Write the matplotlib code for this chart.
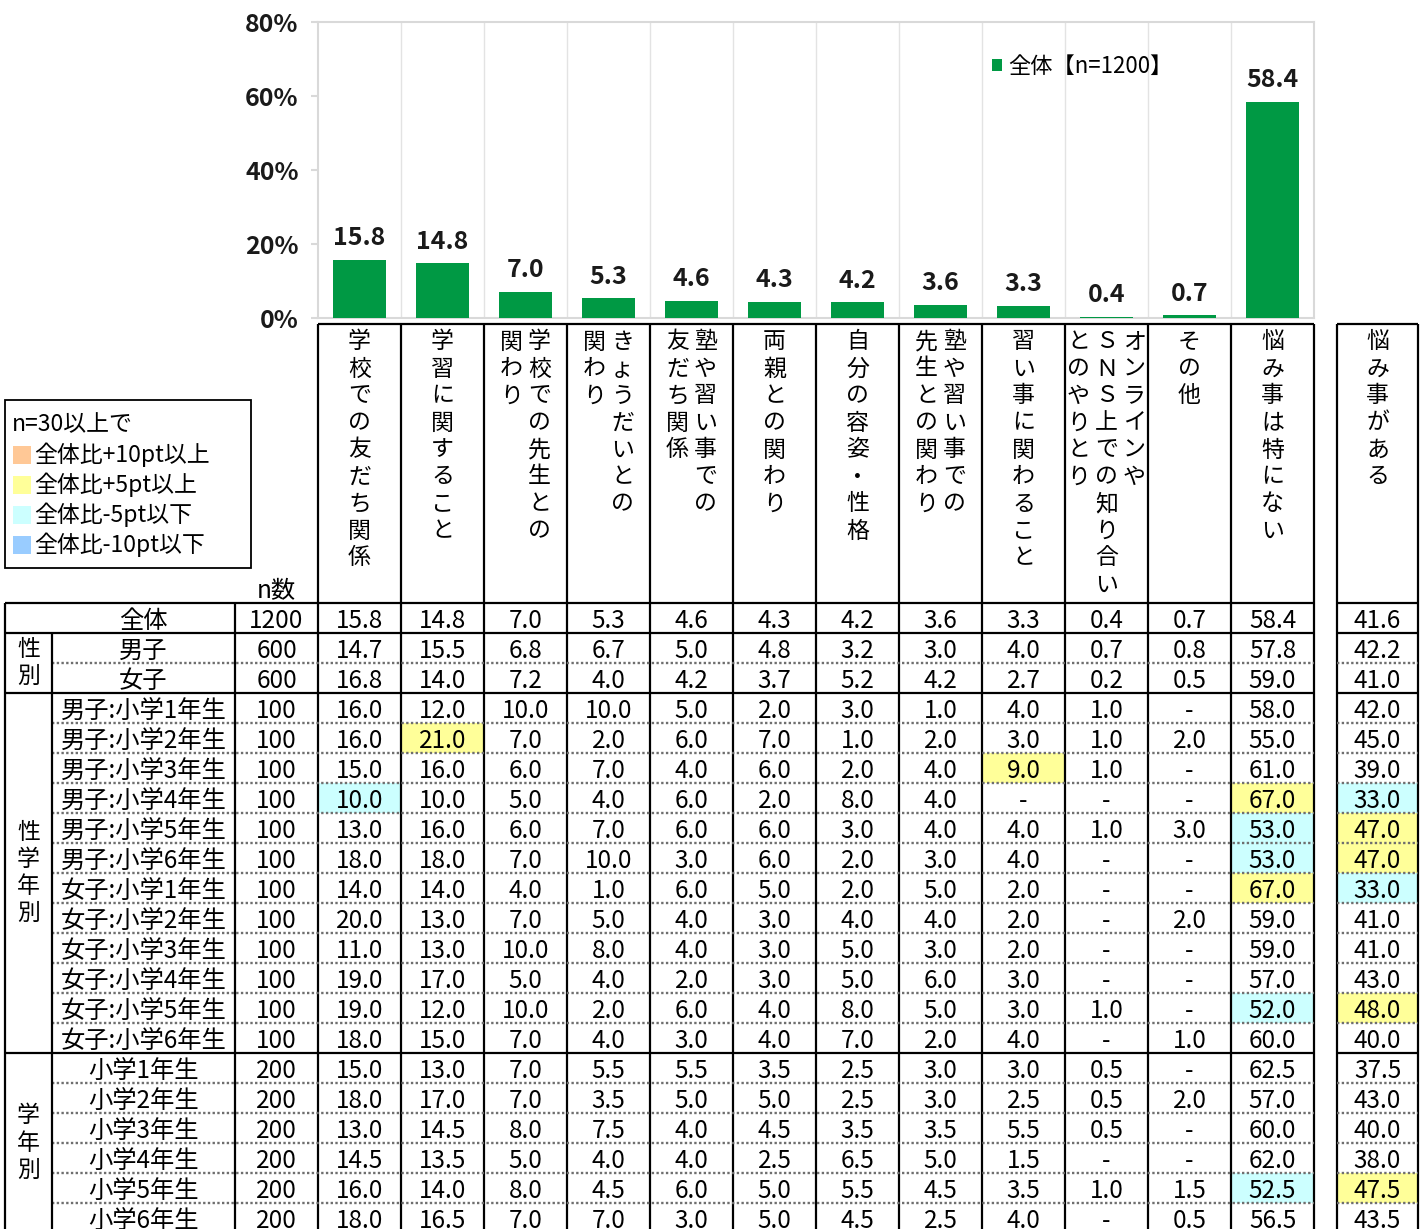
import numpy as np
import matplotlib
matplotlib.use("Agg")  # headless
import matplotlib.pyplot as plt
from matplotlib.patches import Rectangle

plt.rcParams['font.family'] = ['Noto Sans CJK JP', 'DejaVu Sans']

# ---- data ----
categories = [
    "学校での友だち関係", "学習に関すること", "学校での先生との関わり", "きょうだいとの関わり",
    "塾や習い事での友だち関係", "両親との関わり", "自分の容姿・性格", "塾や習い事での先生との関わり",
    "習い事に関わること", "オンラインやSNS上での知り合いとのやりとり", "その他", "悩み事は特にない",
]
# vertical header text, split into columns (right-most first)
header_cols = [
    ["学校での友だち関係"],
    ["学習に関すること"],
    ["学校での先生との", "関わり"],
    ["きょうだいとの", "関わり"],
    ["塾や習い事での", "友だち関係"],
    ["両親との関わり"],
    ["自分の容姿・性格"],
    ["塾や習い事での", "先生との関わり"],
    ["習い事に関わること"],
    ["オンラインや", "ＳＮＳ上での知り合い", "とのやりとり"],
    ["その他"],
    ["悩み事は特にない"],
]
extra_header = "悩み事がある"

total_label = "全体"
total_n = 1200
total_vals = [15.8, 14.8, 7.0, 5.3, 4.6, 4.3, 4.2, 3.6, 3.3, 0.4, 0.7, 58.4]
total_extra = 41.6

gender_labels = ["男子", "女子"]
gender_n = [600, 600]
gender_vals = [
    [14.7, 15.5, 6.8, 6.7, 5.0, 4.8, 3.2, 3.0, 4.0, 0.7, 0.8, 57.8],
    [16.8, 14.0, 7.2, 4.0, 4.2, 3.7, 5.2, 4.2, 2.7, 0.2, 0.5, 59.0],
]
gender_extra = [42.2, 41.0]

sexgrade_labels = [
    "男子:小学1年生", "男子:小学2年生", "男子:小学3年生", "男子:小学4年生", "男子:小学5年生", "男子:小学6年生",
    "女子:小学1年生", "女子:小学2年生", "女子:小学3年生", "女子:小学4年生", "女子:小学5年生", "女子:小学6年生",
]
sexgrade_n = [100] * 12
sexgrade_vals = [
    [16.0, 12.0, 10.0, 10.0, 5.0, 2.0, 3.0, 1.0, 4.0, 1.0, None, 58.0],
    [16.0, 21.0, 7.0, 2.0, 6.0, 7.0, 1.0, 2.0, 3.0, 1.0, 2.0, 55.0],
    [15.0, 16.0, 6.0, 7.0, 4.0, 6.0, 2.0, 4.0, 9.0, 1.0, None, 61.0],
    [10.0, 10.0, 5.0, 4.0, 6.0, 2.0, 8.0, 4.0, None, None, None, 67.0],
    [13.0, 16.0, 6.0, 7.0, 6.0, 6.0, 3.0, 4.0, 4.0, 1.0, 3.0, 53.0],
    [18.0, 18.0, 7.0, 10.0, 3.0, 6.0, 2.0, 3.0, 4.0, None, None, 53.0],
    [14.0, 14.0, 4.0, 1.0, 6.0, 5.0, 2.0, 5.0, 2.0, None, None, 67.0],
    [20.0, 13.0, 7.0, 5.0, 4.0, 3.0, 4.0, 4.0, 2.0, None, 2.0, 59.0],
    [11.0, 13.0, 10.0, 8.0, 4.0, 3.0, 5.0, 3.0, 2.0, None, None, 59.0],
    [19.0, 17.0, 5.0, 4.0, 2.0, 3.0, 5.0, 6.0, 3.0, None, None, 57.0],
    [19.0, 12.0, 10.0, 2.0, 6.0, 4.0, 8.0, 5.0, 3.0, 1.0, None, 52.0],
    [18.0, 15.0, 7.0, 4.0, 3.0, 4.0, 7.0, 2.0, 4.0, None, 1.0, 60.0],
]
sexgrade_extra = [42.0, 45.0, 39.0, 33.0, 47.0, 47.0, 33.0, 41.0, 41.0, 43.0, 48.0, 40.0]

grade_labels = ["小学1年生", "小学2年生", "小学3年生", "小学4年生", "小学5年生", "小学6年生"]
grade_n = [200] * 6
grade_vals = [
    [15.0, 13.0, 7.0, 5.5, 5.5, 3.5, 2.5, 3.0, 3.0, 0.5, None, 62.5],
    [18.0, 17.0, 7.0, 3.5, 5.0, 5.0, 2.5, 3.0, 2.5, 0.5, 2.0, 57.0],
    [13.0, 14.5, 8.0, 7.5, 4.0, 4.5, 3.5, 3.5, 5.5, 0.5, None, 60.0],
    [14.5, 13.5, 5.0, 4.0, 4.0, 2.5, 6.5, 5.0, 1.5, None, None, 62.0],
    [16.0, 14.0, 8.0, 4.5, 6.0, 5.0, 5.5, 4.5, 3.5, 1.0, 1.5, 52.5],
    [18.0, 16.5, 7.0, 7.0, 3.0, 5.0, 4.5, 2.5, 4.0, None, 0.5, 56.5],
]
grade_extra = [37.5, 43.0, 40.0, 38.0, 47.5, 43.5]

groups = [
    ("性別", gender_labels, gender_n, gender_vals, gender_extra),
    ("性学年別", sexgrade_labels, sexgrade_n, sexgrade_vals, sexgrade_extra),
    ("学年別", grade_labels, grade_n, grade_vals, grade_extra),
]

legend_items = [
    ("全体比+10pt以上", "#FFC896"),
    ("全体比+5pt以上", "#FFFF99"),
    ("全体比-5pt以下", "#CCFFFF"),
    ("全体比-10pt以下", "#99CCFF"),
]
BAR_COLOR = "#009944"

# ---- layout (pixels) ----
W, H = 1426, 1229
X0, X_GRP, X_N, X_D0, X_D1 = 5, 52, 235, 318, 1314
COL_W = (X_D1 - X_D0) / len(categories)
X_E0, X_E1 = 1337, 1418
HEAD_Y0, BODY_Y0, ROW_H = 324, 603, 30
FS = 17.5

fig = plt.figure(figsize=(W / 100, H / 100), dpi=100)

# ---- bar chart ----
ax = fig.add_axes([X_D0 / W, 1 - 318 / H, (X_D1 - X_D0) / W, (318 - 22) / H])
ax.set_facecolor("none")
x = np.arange(len(categories))
bars = ax.bar(x, total_vals, width=0.65, color=BAR_COLOR, zorder=3,
              label=f"{total_label}【n={total_n}】")
ax.set_xlim(-0.5, len(categories) - 0.5)
ax.set_ylim(0, 80)
for v in np.arange(0.5, len(categories) - 0.5, 1):
    ax.axvline(v, color="#E3E3E3", lw=1, zorder=1)
for side in ("top", "right", "left", "bottom"):
    ax.spines[side].set_color("#D9D9D9")
    ax.spines[side].set_linewidth(1.5)
ax.set_xticks([])
ax.set_yticks([0, 20, 40, 60, 80], labels=["0%", "20%", "40%", "60%", "80%"])
ax.tick_params(axis="y", length=5, color="#D9D9D9", width=1.5, labelsize=18, pad=9,
               labelcolor="#1a1a1a")
for t in ax.get_yticklabels():
    t.set_fontweight("bold")
ax.bar_label(bars, labels=[f"{v:.1f}" for v in total_vals], padding=7,
             fontsize=18, fontweight="bold", color="#1a1a1a")
ax.legend(loc="center left", bbox_to_anchor=(0.657, 0.851), frameon=False,
          fontsize=16, handlelength=0.45, handleheight=0.45, handletextpad=0.25)

# ---- table (pixel coordinates) ----
tx = fig.add_axes([0, 0, 1, 1], zorder=-1)
tx.set_xlim(0, W)
tx.set_ylim(H, 0)
tx.axis("off")

LW = 1.6


def hline(y, x0, x1, dotted=False):
    if dotted:
        tx.plot([x0, x1], [y, y], color="#6e6e6e", lw=1.7, ls=(0, (1, 1)))
    else:
        tx.plot([x0, x1], [y, y], color="black", lw=LW, solid_capstyle="butt")


def vline(xp, y0, y1):
    tx.plot([xp, xp], [y0, y1], color="black", lw=LW, solid_capstyle="butt")


def vtext(cx, y_top, s, step=27, **kw):
    for j, ch in enumerate(s):
        tx.text(cx, y_top + j * step, ch, ha="center", va="center", fontsize=16.5, **kw)


# header
hline(HEAD_Y0, X_D0, X_D1)
hline(HEAD_Y0, X_E0, X_E1)
for i in range(len(categories) + 1):
    vline(X_D0 + i * COL_W, HEAD_Y0, H + 5)
vline(X_E0, HEAD_Y0, H + 5)
vline(X_E1, HEAD_Y0, H + 5)
for i, segs in enumerate(header_cols):
    cx = X_D0 + (i + 0.5) * COL_W
    m = len(segs)
    for k, seg in enumerate(segs):
        vtext(cx + (m - 1) / 2 * 28 - k * 28, 342, seg)
vtext((X_E0 + X_E1) / 2, 342, extra_header)
tx.text((X_N + X_D0) / 2, 591, "n数", ha="center", va="center", fontsize=FS)

# colour legend box
tx.add_patch(Rectangle((X0, 400), 246, 168, fill=False, ec="black", lw=1.3))
tx.text(12, 425, "n=30以上で", ha="left", va="center", fontsize=16.5)
for k, (lab, col) in enumerate(legend_items):
    yy = 455 + k * 30
    tx.add_patch(Rectangle((13, yy - 9), 18, 18, color=col, lw=0))
    tx.text(34, yy, lab, ha="left", va="center", fontsize=16.5)


def cell_color(v, base):
    if v is None:
        return None
    d = round(v - base, 1)
    if d >= 10:
        return legend_items[0][1]
    if d >= 5:
        return legend_items[1][1]
    if d <= -10:
        return legend_items[3][1]
    if d <= -5:
        return legend_items[2][1]
    return None


def draw_row(y, label, n, vals, extra, compare=True):
    cy = y + ROW_H / 2 + 2.5
    tx.text((X_GRP + X_N) / 2, cy, label, ha="center", va="center", fontsize=FS)
    tx.text((X_N + X_D0) / 2, cy, f"{n}", ha="center", va="center", fontsize=FS)
    cells = [(X_D0 + i * COL_W, COL_W, v, total_vals[i]) for i, v in enumerate(vals)]
    cells.append((X_E0, X_E1 - X_E0, extra, total_extra))
    for x_left, w, v, base in cells:
        col = cell_color(v, base) if compare else None
        if col:
            tx.add_patch(Rectangle((x_left, y), w, ROW_H, color=col, lw=0, zorder=0))
        s = "-" if v is None else f"{v:.1f}"
        tx.text(x_left + w / 2, cy, s, ha="center", va="center", fontsize=FS)


# total row
y = BODY_Y0
hline(y, X0, X_D1)
hline(y, X_E0, X_E1)
draw_row(y, total_label, total_n, total_vals, total_extra, compare=False)
y += ROW_H
for gname, labels, ns, vals, extras in groups:
    gy0 = y
    hline(y, X0, X_D1)
    hline(y, X_E0, X_E1)
    for r in range(len(labels)):
        if r > 0:
            hline(y, X_GRP, X_D1, dotted=True)
            hline(y, X_E0, X_E1, dotted=True)
        draw_row(y, labels[r], ns[r], vals[r], extras[r])
        y += ROW_H
    mid = (gy0 + y) / 2
    vtext((X0 + X_GRP) / 2, mid - (len(gname) - 1) / 2 * 27, gname)
vline(X0, BODY_Y0, H + 5)
vline(X_GRP, BODY_Y0 + ROW_H, H + 5)
vline(X_N, BODY_Y0, H + 5)

fig.savefig("out.png", dpi=100)
plt.close(fig)
